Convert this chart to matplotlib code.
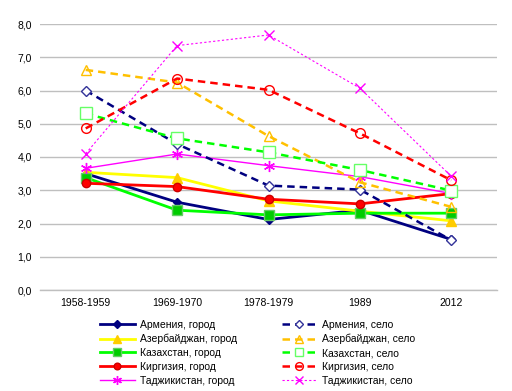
import matplotlib
matplotlib.use("Agg")
import matplotlib.pyplot as plt

plt.rcParams['font.family'] = ['Liberation Sans', 'DejaVu Sans']

periods = ["1958-1959", "1969-1970", "1978-1979", "1989", "2012"]

armenia_city = [3.50, 2.64, 2.12, 2.40, 1.52]
armenia_village = [6.00, 4.39, 3.14, 3.02, 1.50]
azer_city = [3.54, 3.38, 2.68, 2.37, 2.08]
azer_village = [6.62, 6.24, 4.63, 3.24, 2.50]
kaz_city = [3.38, 2.40, 2.26, 2.31, 2.31]
kaz_village = [5.31, 4.56, 4.14, 3.61, 2.99]
kyr_city = [3.21, 3.11, 2.73, 2.59, 2.90]
kyr_village = [4.86, 6.36, 6.02, 4.71, 3.30]
taj_city = [3.66, 4.09, 3.74, 3.41, 2.90]
taj_village = [4.10, 7.35, 7.67, 6.07, 3.42]

fig = plt.figure(figsize=(5.12, 3.91), dpi=100)
ax = fig.add_axes([40/512, 1-290/391, 457/512, 266/391])
x = list(range(len(periods)))

h = []
h += ax.plot(x, armenia_city, color="#000080", lw=2, marker="D", ms=4.5, mfc="#000080", mec="#000080", label="Армения, город")
h += ax.plot(x, azer_city, color="#FFFF00", lw=2, marker="^", ms=6.5, mfc="#FFCC00", mec="#FFCC00", label="Азербайджан, город")
h += ax.plot(x, kaz_city, color="#00FF00", lw=2, marker="s", ms=7, mfc="#00CC00", mec="#66CC66", label="Казахстан, город")
h += ax.plot(x, kyr_city, color="#FF0000", lw=2, marker="o", ms=6, mfc="#FF0000", mec="#CC0000", label="Киргизия, город")
h += ax.plot(x, taj_city, color="#FF00FF", lw=1, marker=(6, 2, 0), ms=8, mfc="#FF00FF", mec="#FF00FF", label="Таджикистан, город")

h2 = []
h2 += ax.plot(x, armenia_village, color="#000080", lw=1.8, ls=(0, (3, 2)), marker="D", ms=5.5, mfc="white", mec="#333399", label="Армения, село")
h2 += ax.plot(x, azer_village, color="#FFC000", lw=1.8, ls=(0, (3, 2)), marker="^", ms=7, mfc="none", mec="#FFC000", label="Азербайджан, село")
h2 += ax.plot(x, kaz_village, color="#00FF00", lw=1.8, ls=(0, (3, 2)), marker="s", ms=8, mfc="white", mec="#66FF66", label="Казахстан, село")
h2 += ax.plot(x, kyr_village, color="#FF0000", lw=1.8, ls=(0, (3, 2)), marker="o", ms=7, mfc="none", mec="#FF0000", label="Киргизия, село")
h2 += ax.plot(x, taj_village, color="#FF00FF", lw=0.8, ls=(0, (2, 2)), marker="x", ms=6.5, mfc="#FF00FF", mec="#FF00FF", label="Таджикистан, село")

ax.set_ylim(0, 8)
ax.set_xlim(-0.5, len(periods) - 0.5)
ax.set_yticks([0, 1, 2, 3, 4, 5, 6, 7, 8])
ax.set_yticklabels([f"{v:.1f}".replace(".", ",") for v in range(9)])
ax.set_xticks(x)
ax.set_xticklabels(periods)
ax.tick_params(axis="both", length=0, labelsize=7.5, pad=6)
ax.grid(axis="y", color="#BFBFBF", lw=1)
ax.set_axisbelow(True)
for s in ax.spines.values():
    s.set_visible(False)
ax.axhline(0, color="#BFBFBF", lw=1, clip_on=False, zorder=0)

handles = h + h2
fig.legend(handles=handles, labels=[hh.get_label() for hh in handles], ncol=2,
           loc="lower center", bbox_to_anchor=(0.503, -0.010), frameon=False,
           fontsize=7.5, handlelength=3.3, columnspacing=4.35, labelspacing=0.36,
           handletextpad=0.5, markerscale=0.8)

fig.savefig("out.png", dpi=100)
